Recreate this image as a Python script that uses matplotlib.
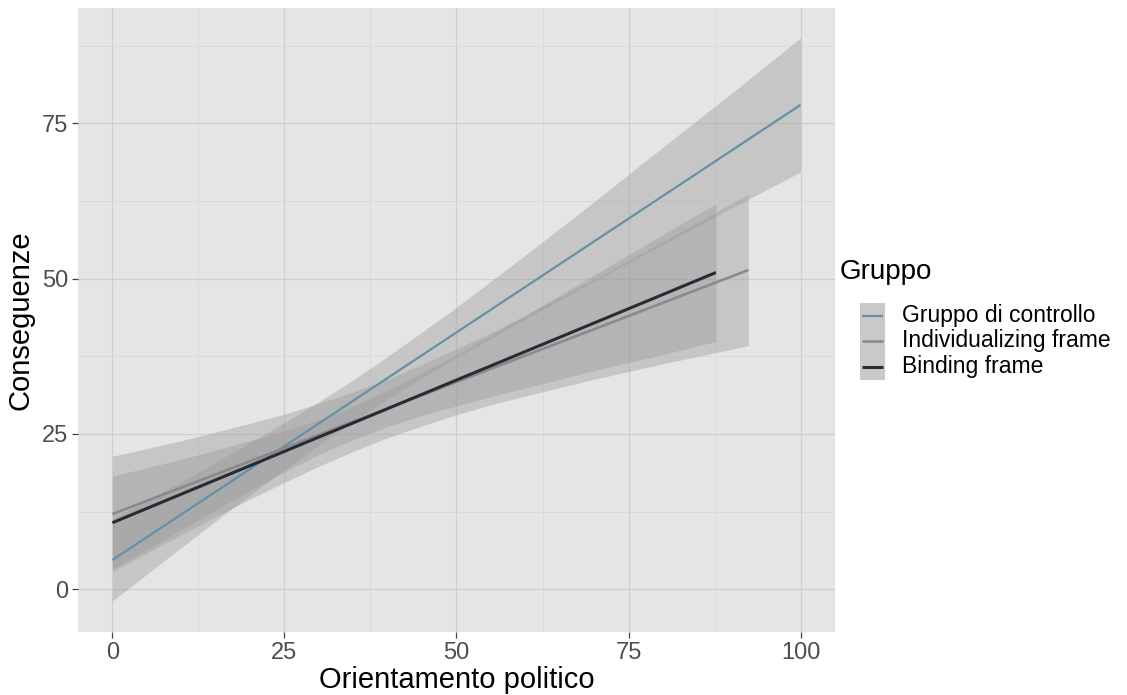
import matplotlib
matplotlib.use("Agg")
import matplotlib.pyplot as plt
from matplotlib.patches import Rectangle
from matplotlib.lines import Line2D

plt.rcParams['font.family'] = ['Liberation Sans', 'DejaVu Sans']

# Fitted lines with 95% confidence bands, per group
ctrl_x = [0, 10, 20, 25, 30, 35, 40, 45, 50, 55, 60, 70, 80, 90, 100]
ctrl_fit = [4.7, 12.03, 19.36, 23.03, 26.69, 30.36, 34.02, 37.69, 41.35,
            45.02, 48.68, 56.01, 63.34, 70.67, 78.0]
ctrl_lo = [-1.9, 6.7, 15.2, 19.2, 23.2, 27.0, 30.6, 34.0, 37.3,
           40.4, 43.5, 49.6, 55.5, 61.4, 67.2]
ctrl_hi = [11.3, 17.3, 23.6, 26.8, 30.2, 33.7, 37.5, 41.4, 45.4,
           49.6, 53.8, 62.4, 71.2, 79.9, 88.8]

indiv_x = [0, 10, 20, 25, 30, 35, 40, 45, 50, 55, 60, 70, 80, 92.4]
indiv_fit = [12.1, 16.35, 20.61, 22.73, 24.86, 26.99, 29.11, 31.24, 33.37,
             35.49, 37.62, 41.87, 46.12, 51.4]
indiv_lo = [2.8, 8.8, 14.5, 17.2, 19.8, 22.2, 24.4, 26.3, 28.1,
            29.7, 31.1, 33.8, 36.3, 39.2]
indiv_hi = [21.4, 23.9, 26.7, 28.2, 29.9, 31.8, 33.8, 36.2, 38.7,
            41.3, 44.1, 49.9, 56.0, 63.6]

bind_x = [0, 10, 20, 25, 30, 35, 40, 45, 50, 55, 60, 70, 80, 87.7]
bind_fit = [10.7, 15.3, 19.89, 22.19, 24.49, 26.78, 29.08, 31.38, 33.68,
            35.97, 38.27, 42.87, 47.46, 51.0]
bind_lo = [3.2, 9.6, 15.9, 18.9, 21.7, 24.1, 26.2, 28.0, 29.5,
           31.0, 32.4, 35.2, 37.8, 39.9]
bind_hi = [18.2, 20.9, 23.9, 25.5, 27.3, 29.5, 32.0, 34.8, 37.8,
           40.9, 44.1, 50.6, 57.1, 62.1]

group_labels = ["Gruppo di controllo", "Individualizing frame", "Binding frame"]
group_colors = ["#6690A8", "#8A8A8A", "#262B36"]
group_lw = [1.6, 1.9, 2.2]

x_ticks = [0, 25, 50, 75, 100]
y_ticks = [0, 25, 50, 75]

W, H = 1127, 695
fig = plt.figure(figsize=(W / 100, H / 100), dpi=100)
fig.patch.set_facecolor("white")

left, right, top, bottom = 78, 835, 8, 632
ax = fig.add_axes([left / W, (H - bottom) / H, (right - left) / W, (bottom - top) / H])
ax.set_facecolor("#E5E5E5")
for s in ax.spines.values():
    s.set_visible(False)

ax.set_xlim(-5, 105)
ax.set_ylim(-6.9, 93.6)

# grid
for v in [12.5, 37.5, 62.5, 87.5]:
    ax.axvline(v, color="#DADADA", lw=0.7, zorder=0)
    ax.axhline(v, color="#DADADA", lw=0.7, zorder=0)
for v in x_ticks:
    ax.axvline(v, color="#CFCFCF", lw=0.9, zorder=0)
for v in y_ticks:
    ax.axhline(v, color="#CFCFCF", lw=0.9, zorder=0)

groups = [
    (ctrl_x, ctrl_fit, ctrl_lo, ctrl_hi),
    (indiv_x, indiv_fit, indiv_lo, indiv_hi),
    (bind_x, bind_fit, bind_lo, bind_hi),
]
for (gx, gf, glo, ghi), col, lw in zip(groups, group_colors, group_lw):
    ax.fill_between(gx, glo, ghi, color="#999999", alpha=0.4, lw=0, zorder=2)
    ax.plot(gx, gf, color=col, lw=lw, zorder=3, solid_capstyle="butt")

ax.set_xticks(x_ticks)
ax.set_yticks(y_ticks)
ax.set_xticklabels([str(v) for v in x_ticks])
ax.set_yticklabels([str(v) for v in y_ticks])
ax.tick_params(axis="both", length=4, width=0.9, color="#444444",
               labelsize=17, labelcolor="#4D4D4D", pad=3)

ax.set_xlabel("Orientamento politico", fontsize=21, color="black", labelpad=2)
ax.set_ylabel("Conseguenze", fontsize=21, color="black", labelpad=5)

# legend
def fx(px):
    return px / W

def fy(py):
    return 1 - py / H

fig.text(fx(840), fy(272), "Gruppo", fontsize=20, color="black",
         ha="left", va="center")
key_x0, key_x1 = 860, 885
key_y0, key_y1 = 303, 380
fig.add_artist(Rectangle((fx(key_x0), fy(key_y1)), fx(key_x1 - key_x0),
                         (key_y1 - key_y0) / H, transform=fig.transFigure,
                         facecolor="#C9C9C9", edgecolor="none"))
row_y = [315.7, 341, 367]
for yy, lab, col, lw in zip(row_y, group_labels, group_colors, group_lw):
    fig.add_artist(Line2D([fx(862), fx(883)], [fy(yy), fy(yy)],
                          transform=fig.transFigure, color=col, lw=lw,
                          solid_capstyle="butt"))
    fig.text(fx(902), fy(yy), lab, fontsize=16.5, color="black",
             ha="left", va="center")

fig.savefig("out.png", dpi=100)
